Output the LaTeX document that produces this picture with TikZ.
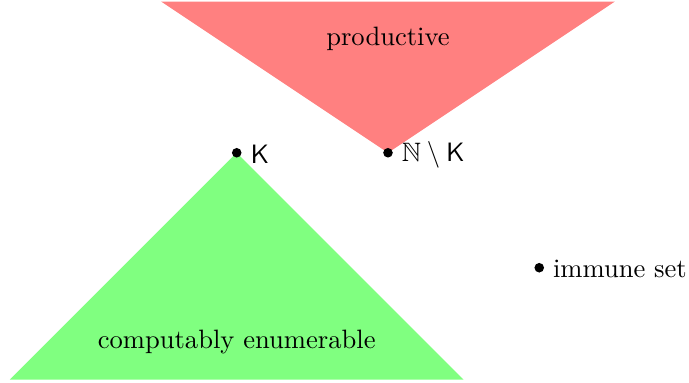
\documentclass[tikz,border=0pt]{standalone}
\usepackage{amsmath, amssymb}
\usepackage{tikz}
\usetikzlibrary{positioning, calc}
\definecolor{prodred}{RGB}{255, 128, 128}
\definecolor{cegreen}{RGB}{128, 255, 128}
\tikzset{every path/.style={line cap=round, line join=round}, setdot/.style={circle, fill=black, inner sep=0pt, minimum size=3.6pt}, setlabel/.style={inner sep=3pt, yshift=-0.6pt}}

\begin{document}
\begin{tikzpicture}
    \useasboundingbox (-3.13,-3.04) rectangle (5.98,2.02);
    % regions
    \fill [prodred] (-1,2) -- (5,2) -- (2,0) -- cycle;
    \fill [cegreen] (0,0) -- (3,-3) -- (-3,-3) -- cycle;
    \node (prod) at (2,1.5) {productive};
    \node (ce) at (0,-2.5) {computably enumerable};
    % sets
    \node [setdot] (K) at (0,0) {};
    \node [setdot] (coK) at (2,0) {};
    \node [setdot] (imm) at (4,-1.52) {};
    \node [right=0pt of K, setlabel] (Klab) {$\mathsf{K}$};
    \node [right=0pt of coK, setlabel] (coKlab) {$\mathbb{N}\setminus\mathsf{K}$};
    \node [right=0pt of imm, setlabel] (immlab) {immune set};
\end{tikzpicture}
\end{document}
